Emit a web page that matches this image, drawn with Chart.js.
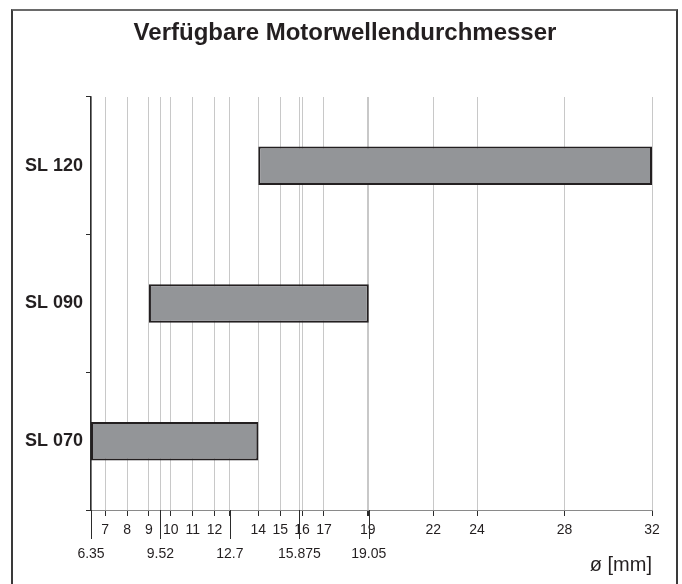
<!DOCTYPE html>
<html>
<head>
<meta charset="utf-8">
<script src="https://cdn.jsdelivr.net/npm/chart.js@4.4.1/dist/chart.umd.min.js"></script>
<style>
  html, body { margin: 0; padding: 0; background: #fff; overflow: hidden; }
  #wrap { position: relative; width: 682px; height: 584px; }
  #frame { position: absolute; left: 11px; top: 9px; width: 667px; height: 640px; border: 2px solid #3a3a3a; border-top-color: #6a6a6a; box-sizing: border-box; pointer-events: none; }
</style>
</head>
<body>
<div id="wrap">
  <canvas id="myChart" width="682" height="584"></canvas>
  <div id="frame"></div>
</div>
<script>
'use strict';

let chartTitle = 'Verfügbare Motorwellendurchmesser';
let categories = ['SL 120', 'SL 090', 'SL 070'];
let rangeStart = [14, 9, 6.35];
let rangeEnd = [32, 19.05, 14];
let tickTop = [7, 8, 9, 10, 11, 12, 14, 15, 16, 17, 19, 22, 24, 28, 32];
let tickBottom = [6.35, 9.52, 12.7, 15.875, 19.05];

let plainFont = '"Liberation Sans", Arial, sans-serif';

let bars = [];
for (let i = 0; i < categories.length; i++) {
  bars.push([rangeStart[i], rangeEnd[i]]);
}

let allTicks = tickTop.concat(tickBottom).sort(function (a, b) { return a - b; });

// title drawn by hand so it can sit a bit right of the canvas centre
let titleText = {
  id: 'titleText',
  afterDraw(chart) {
    let ctx = chart.ctx;
    ctx.save();
    ctx.fillStyle = '#231f20';
    ctx.font = 'bold 24px ' + plainFont;
    ctx.textAlign = 'center';
    ctx.textBaseline = 'middle';
    ctx.fillText(chartTitle, 345, 33);
    ctx.restore();
  }
};

// longer tick marks under the inch sizes
let longTicks = {
  id: 'longTicks',
  afterDraw(chart) {
    let ctx = chart.ctx;
    let xs = chart.scales.x;
    let bottom = chart.chartArea.bottom;
    ctx.save();
    ctx.strokeStyle = '#2b2b2b';
    ctx.lineWidth = 1;
    for (let i = 0; i < tickBottom.length; i++) {
      let px = Math.round(xs.getPixelForValue(tickBottom[i])) + 0.5;
      ctx.beginPath();
      ctx.moveTo(px, bottom);
      ctx.lineTo(px, bottom + 29);
      ctx.stroke();
    }
    ctx.restore();
  }
};

const config = {
  type: 'bar',
  data: {
    labels: categories,
    datasets: [{
      data: bars,
      backgroundColor: '#939598',
      borderColor: '#231f20',
      borderWidth: 2,
      borderSkipped: false,
      barPercentage: 0.28,
      categoryPercentage: 1
    }]
  },
  options: {
    indexAxis: 'y',
    responsive: false,
    animation: false,
    devicePixelRatio: 1,
    layout: {
      padding: { left: 0, right: 30, top: 97, bottom: 0 }
    },
    plugins: {
      legend: { display: false },
      tooltip: { enabled: false },
      title: { display: false }
    },
    scales: {
      x: {
        type: 'linear',
        min: 6.35,
        max: 32,
        afterBuildTicks: function (scale) {
          scale.ticks = allTicks.map(function (v) { return { value: v }; });
        },
        afterFit: function (scale) {
          scale.height = 74;
        },
        grid: {
          color: '#c8c8c8',
          lineWidth: 1,
          tickColor: '#2b2b2b',
          tickLength: 6
        },
        border: { color: '#8a8a8a', width: 1 },
        ticks: {
          autoSkip: false,
          maxRotation: 0,
          padding: 2,
          color: '#231f20',
          font: { family: plainFont, size: 14, lineHeight: 1.72 },
          callback: function (value) {
            if (tickBottom.includes(value)) {
              return ['', String(value)];
            }
            return String(value);
          }
        },
        title: {
          display: true,
          text: 'ø [mm]',
          align: 'end',
          color: '#231f20',
          font: { family: plainFont, size: 20, lineHeight: 1.2 },
          padding: { top: 0, bottom: 7 }
        }
      },
      y: {
        type: 'category',
        afterFit: function (scale) {
          scale.width = 91;
        },
        grid: {
          offset: true,
          drawOnChartArea: false,
          tickColor: '#2b2b2b',
          tickLength: 5
        },
        border: { color: '#2b2b2b', width: 1.5 },
        ticks: {
          padding: 3,
          color: '#231f20',
          font: { family: plainFont, size: 18, weight: 'bold' }
        }
      }
    }
  },
  plugins: [longTicks, titleText]
};

const myChart = new Chart(document.getElementById('myChart'), config);
</script>
</body>
</html>
